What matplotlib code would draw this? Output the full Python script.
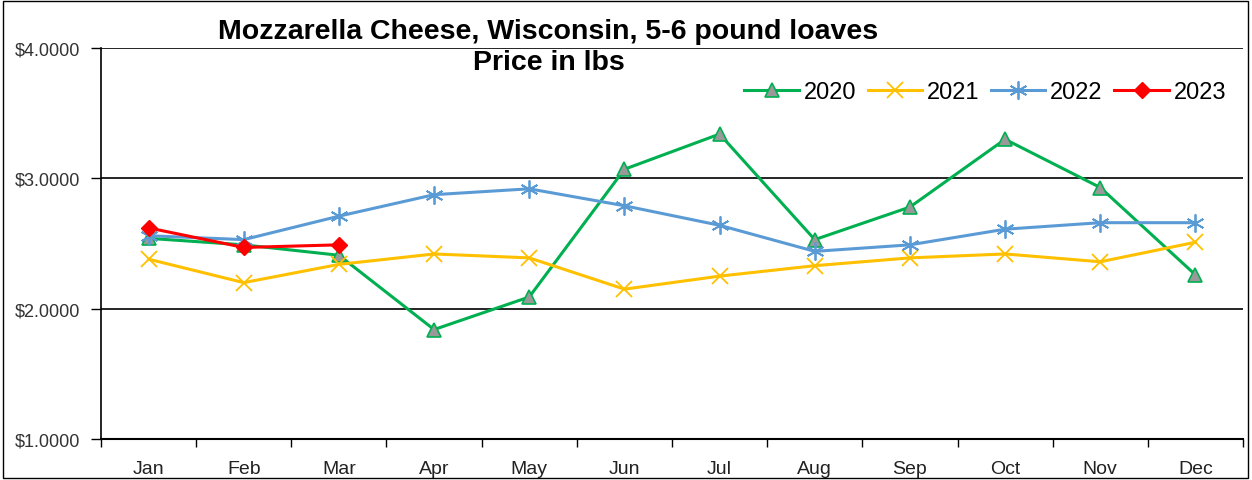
import matplotlib.pyplot as plt
from matplotlib.patches import Rectangle

months = ['Jan', 'Feb', 'Mar', 'Apr', 'May', 'Jun', 'Jul', 'Aug', 'Sep', 'Oct', 'Nov', 'Dec']
price_2020 = [2.54, 2.49, 2.41, 1.84, 2.09, 3.07, 3.34, 2.53, 2.78, 3.30, 2.93, 2.26]
price_2021 = [2.38, 2.20, 2.34, 2.42, 2.39, 2.15, 2.25, 2.33, 2.39, 2.42, 2.36, 2.51]
price_2022 = [2.56, 2.53, 2.71, 2.875, 2.92, 2.79, 2.64, 2.44, 2.49, 2.61, 2.66, 2.66]
price_2023 = [2.62, 2.47, 2.49]

plt.rcParams['font.family'] = ['Liberation Sans', 'DejaVu Sans']

fig = plt.figure(figsize=(12.52, 4.81), dpi=100)
ax = fig.add_axes([101 / 1252, 0.0852, 1142 / 1252, 0.8128])

x = list(range(len(months)))
ax.plot(x, price_2020, color='#00B050', lw=2.2, marker='^', markersize=10,
        markerfacecolor='#999999', markeredgecolor='#00B050', markeredgewidth=1.2, label='2020')
ax.plot(x, price_2021, color='#FFC000', lw=2.2, marker='x', markersize=12,
        markeredgewidth=1.3, label='2021')
ax.plot(x, price_2022, color='#5B9BD5', lw=2.2, marker=(6, 2, 0), markersize=13,
        markeredgewidth=1.3, label='2022')
ax.plot(x[:len(price_2023)], price_2023, color='#FF0000', lw=2.2, marker='D', markersize=8.5,
        label='2023')

ax.set_xlim(-0.5, 11.5)
ax.set_ylim(1, 4)
ax.set_yticks([1, 2, 3, 4])
ax.set_yticklabels(['$1.0000', '$2.0000', '$3.0000', '$4.0000'], fontsize=13, color='#333333')
ax.set_xticks(x)
ax.set_xticklabels(months, fontsize=14, color='#222222')
ax.set_xticks([i - 0.5 for i in range(13)], minor=True)
ax.tick_params(axis='x', which='major', length=0, pad=15)
ax.tick_params(axis='x', which='minor', length=5.5, width=1, direction='out')
ax.tick_params(axis='y', length=7, width=1, direction='out', pad=8)

ax.grid(axis='y', color='black', lw=1.2)
ax.set_axisbelow(True)
for s in ['top', 'right']:
    ax.spines[s].set_visible(False)
ax.spines['left'].set_linewidth(1.2)
ax.spines['bottom'].set_linewidth(1.5)

fig.text(0.438, 0.933, 'Mozzarella Cheese, Wisconsin, 5-6 pound loaves', ha='center', va='center',
         fontsize=20.5, fontweight='bold')
fig.text(0.438, 0.869, 'Price in lbs', ha='center', va='center', fontsize=20.5, fontweight='bold')

ax.legend(loc='center right', bbox_to_anchor=(1226 / 1252, 0.807), bbox_transform=fig.transFigure,
          ncol=4, frameon=False, fontsize=17, handlelength=2.3, columnspacing=0.5,
          handletextpad=0.2, borderpad=0, borderaxespad=0)

fig.patches.append(Rectangle((0.002, 0.004), 0.995, 0.992, transform=fig.transFigure,
                             fill=False, edgecolor='black', lw=1))

plt.savefig('out.png', dpi=100)
